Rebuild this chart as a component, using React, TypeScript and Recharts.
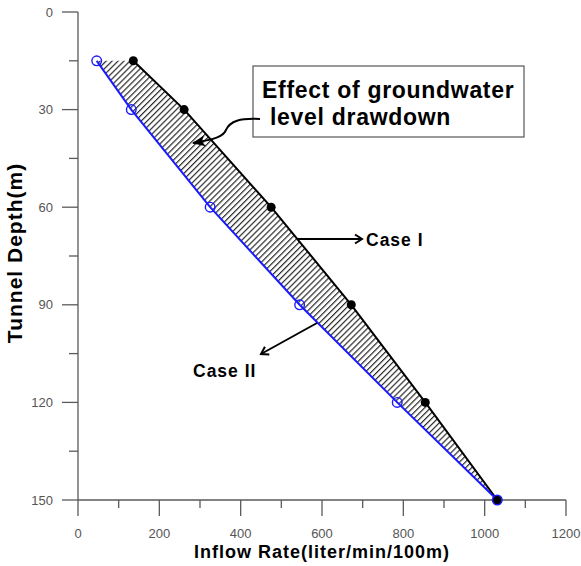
import React from "react";
import {Area, ComposedChart, Line, XAxis, YAxis} from "recharts";

// depth (m) and inflow (liter/min/100m)
const depths = [15, 30, 60, 90, 120, 150];
const caseI = [136, 261, 475, 672, 854, 1031];
const caseII = [46, 131, 325, 545, 785, 1031];

const xTicks = [0, 100, 200, 300, 400, 500, 600, 700, 800, 900, 1000, 1100, 1200];
const yTicks = [0, 15, 30, 45, 60, 75, 90, 105, 120, 135, 150];

const data = depths.map((d, i) => ({
    depth: d,
    caseI: caseI[i],
    caseII: caseII[i],
    band: [caseII[i], caseI[i]],
}));

const axisColor = "#5a5a5a";
const font = "'Liberation Sans', Arial, sans-serif";

const XTick = (props: any) => {
    const {x, y, payload} = props;
    const major = payload.value % 200 === 0;
    return (
        <g>
            <line x1={x} x2={x} y1={y} y2={y + (major ? 16 : 8)} stroke={axisColor} strokeWidth={1.3}/>
            {major && (
                <text x={x} y={y + 33} dy="0.35em" textAnchor="middle" fontSize={13} fill="#555" fontFamily={font}>
                    {payload.value}
                </text>
            )}
        </g>
    );
};

const YTick = (props: any) => {
    const {x, y, payload} = props;
    const major = payload.value % 30 === 0;
    return (
        <g>
            <line x1={x - (major ? 16 : 9)} x2={x} y1={y} y2={y} stroke={axisColor} strokeWidth={1.3}/>
            {major && (
                <text x={x - 25} y={y} dy="0.35em" textAnchor="end" fontSize={13} fill="#555" fontFamily={font}>
                    {payload.value}
                </text>
            )}
        </g>
    );
};

const BlackDot = (props: any) => <circle cx={props.cx} cy={props.cy} r={4.5} fill="#000"/>;
const BlueDot = (props: any) => (
    <circle cx={props.cx} cy={props.cy} r={4.8} fill="none" stroke="#1a1aff" strokeWidth={1.4}/>
);

export default function App() {
    return (
        <div style={{position: "absolute", left: 0, top: 0, width: 581, height: 566, background: "#fff"}}>
            <ComposedChart
                width={581}
                height={566}
                data={data}
                layout="vertical"
                margin={{top: 12, right: 15, left: 0, bottom: 0}}
            >
                <defs>
                    <pattern id="hatch" patternUnits="userSpaceOnUse" width={4.2} height={4.2} patternTransform="rotate(45)">
                        <line x1={0.6} y1={0} x2={0.6} y2={4.2} stroke="#2a2a2a" strokeWidth={1.2}/>
                    </pattern>
                </defs>
                <XAxis
                    type="number"
                    domain={[0, 1200]}
                    ticks={xTicks}
                    interval={0}
                    height={66}
                    tickLine={false}
                    tickSize={0}
                    tickMargin={0}
                    tick={XTick}
                    axisLine={{stroke: axisColor, strokeWidth: 1.3}}
                />
                <YAxis
                    type="number"
                    dataKey="depth"
                    domain={[0, 150]}
                    ticks={yTicks}
                    interval={0}
                    width={78}
                    tickLine={false}
                    tickSize={0}
                    tickMargin={0}
                    tick={YTick}
                    axisLine={{stroke: axisColor, strokeWidth: 1.3}}
                />
                <Area
                    dataKey="band"
                    type="linear"
                    fill="url(#hatch)"
                    fillOpacity={1}
                    stroke="none"
                    isAnimationActive={false}
                />
                <Line
                    dataKey="caseI"
                    type="linear"
                    stroke="#000"
                    strokeWidth={2}
                    dot={BlackDot}
                    activeDot={false}
                    isAnimationActive={false}
                />
                <Line
                    dataKey="caseII"
                    type="linear"
                    stroke="#1a1aff"
                    strokeWidth={2}
                    dot={BlueDot}
                    activeDot={false}
                    isAnimationActive={false}
                />
            </ComposedChart>
            <svg
                width={581}
                height={566}
                style={{position: "absolute", left: 0, top: 0, pointerEvents: "none"}}
                fontFamily={font}
                fontWeight="bold"
            >
                <defs>
                    <marker id="chev" markerUnits="userSpaceOnUse" markerWidth={12} markerHeight={12} refX={10} refY={6} orient="auto">
                        <path d="M3,1.5 L10,6 L3,10.5" fill="none" stroke="#000" strokeWidth={2}/>
                    </marker>
                    <marker id="tri" markerUnits="userSpaceOnUse" markerWidth={14} markerHeight={12} refX={12} refY={6} orient="auto">
                        <path d="M0,0.5 L13,6 L0,11.5 L3,6 z" fill="#000"/>
                    </marker>
                </defs>
                <rect x={253} y={66} width={271} height={71} fill="#fff" stroke="#555" strokeWidth={1.2}/>
                <text x={262} y={98} fontSize={23} letterSpacing={0.7} fill="#000">Effect of groundwater</text>
                <text x={270} y={125} fontSize={23} letterSpacing={0.7} fill="#000">level drawdown</text>
                <path
                    d="M260,119 C240,118 230,121 226,130 C223,137 215,139 193,143"
                    fill="none"
                    stroke="#000"
                    strokeWidth={2}
                    markerEnd="url(#tri)"
                />
                <line x1={298} y1={239} x2={362} y2={239} stroke="#000" strokeWidth={2} markerEnd="url(#chev)"/>
                <text x={366} y={246} fontSize={17.5} letterSpacing={1} fill="#000">Case I</text>
                <line x1={317} y1={323} x2={261} y2={354} stroke="#000" strokeWidth={2} markerEnd="url(#chev)"/>
                <text x={193} y={377} fontSize={17.5} letterSpacing={1} fill="#000">Case II</text>
                <text x={322} y={558} fontSize={18} letterSpacing={1} textAnchor="middle" fill="#000">
                    Inflow Rate(liter/min/100m)
                </text>
                <text
                    x={0}
                    y={0}
                    fontSize={21}
                    letterSpacing={1}
                    textAnchor="middle"
                    fill="#000"
                    transform="translate(22,253) rotate(-90)"
                >
                    Tunnel Depth(m)
                </text>
            </svg>
        </div>
    );
}
